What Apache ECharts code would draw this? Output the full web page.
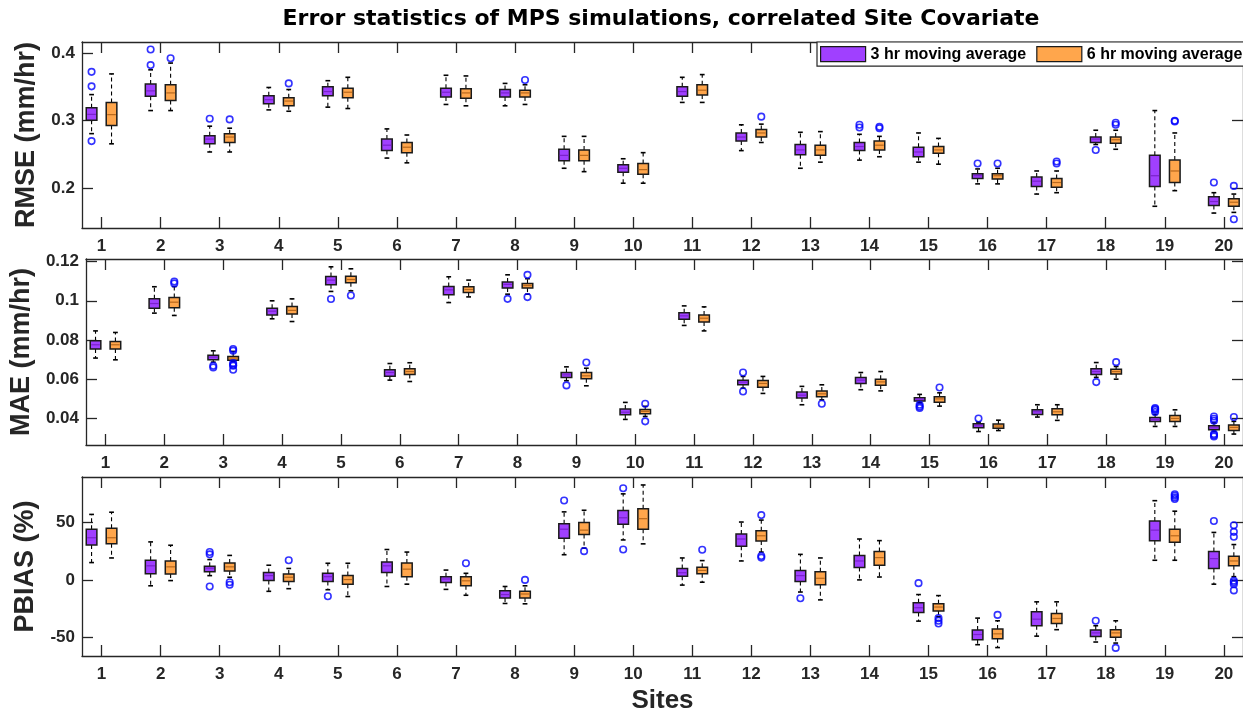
<!DOCTYPE html>
<html>
<head>
<meta charset="utf-8">
<script src="https://cdn.jsdelivr.net/npm/echarts@6/dist/echarts.min.js"></script>
<style>html,body{margin:0;padding:0;background:#fff}#c{width:1243px;height:715px}</style>
</head>
<body>
<div id="c"></div>
<script>
// ---------------- DATA ----------------
const SITES = [1,2,3,4,5,6,7,8,9,10,11,12,13,14,15,16,17,18,19,20];
const SERIES_NAMES = ['3 hr moving average', '6 hr moving average'];
const TITLE = 'Error statistics of MPS simulations, correlated Site Covariate';
const X_NAME = 'Sites';
const Y_NAMES = ['RMSE (mm/hr)', 'MAE (mm/hr)', 'PBIAS (%)'];
const RMSE_TICKS = [0.2, 0.3, 0.4];
const RMSE_TICK_LABELS = ['0.2', '0.3', '0.4'];
const MAE_TICKS = [0.04, 0.06, 0.08, 0.1, 0.12];
const MAE_TICK_LABELS = ['0.04', '0.06', '0.08', '0.1', '0.12'];
const PBIAS_TICKS = [-50, 0, 50];
const PBIAS_TICK_LABELS = ['-50', '0', '50'];

// [lower whisker, Q1, median, Q3, upper whisker] per site
const RMSE_3HR = [
  [0.281,0.3006,0.3094,0.3193,0.3385],[0.315,0.336,0.344,0.354,0.375],[0.254,0.266,0.273,0.278,0.292],
  [0.316,0.325,0.331,0.337,0.349],[0.320,0.337,0.343,0.350,0.359],[0.245,0.256,0.264,0.273,0.288],
  [0.324,0.335,0.342,0.348,0.367],[0.322,0.335,0.341,0.346,0.355],[0.230,0.241,0.249,0.258,0.277],
  [0.208,0.224,0.230,0.235,0.244],[0.327,0.336,0.343,0.350,0.364],[0.256,0.270,0.276,0.282,0.294],
  [0.230,0.250,0.257,0.265,0.283],[0.242,0.256,0.262,0.268,0.280],[0.239,0.247,0.254,0.261,0.282],
  [0.207,0.215,0.219,0.222,0.229],[0.192,0.203,0.211,0.217,0.226],[0.265,0.268,0.273,0.276,0.286],
  [0.174,0.203,0.219,0.249,0.315],[0.164,0.175,0.181,0.188,0.194]
];
const RMSE_6HR = [
  [0.266,0.293,0.309,0.327,0.369],[0.315,0.330,0.341,0.353,0.385],[0.254,0.268,0.276,0.281,0.289],
  [0.314,0.322,0.329,0.334,0.346],[0.318,0.334,0.342,0.348,0.364],[0.238,0.253,0.261,0.268,0.279],
  [0.322,0.333,0.341,0.347,0.366],[0.324,0.335,0.341,0.345,0.353],[0.225,0.241,0.249,0.257,0.277],
  [0.208,0.221,0.228,0.237,0.253],[0.327,0.338,0.345,0.353,0.368],[0.268,0.276,0.282,0.287,0.295],
  [0.239,0.249,0.257,0.264,0.284],[0.247,0.257,0.264,0.270,0.277],[0.236,0.252,0.257,0.262,0.274],
  [0.207,0.214,0.219,0.222,0.230],[0.194,0.202,0.209,0.215,0.226],[0.258,0.267,0.272,0.276,0.286],
  [0.197,0.209,0.226,0.242,0.282],[0.165,0.174,0.180,0.185,0.192]
];
const RMSE_3HR_OUT = [[1,0.372],[1,0.3507],[1,0.270],[2,0.405],[2,0.382],[3,0.303],[14,0.294],[14,0.290],
  [16,0.237],[18,0.257],[20,0.209]];
const RMSE_6HR_OUT = [[2,0.392],[3,0.302],[4,0.355],[8,0.360],[12,0.306],[14,0.291],[14,0.289],[16,0.237],
  [17,0.240],[17,0.237],[18,0.297],[18,0.294],[19,0.299],[19,0.300],[20,0.204],[20,0.155]];

const MAE_3HR = [
  [0.0707,0.0753,0.0775,0.0795,0.0846],[0.0937,0.0962,0.0986,0.1010,0.1072],[0.0686,0.0698,0.0712,0.0722,0.0744],
  [0.0908,0.0928,0.0947,0.0962,0.1000],[0.1048,0.1082,0.1106,0.1125,0.1174],[0.0594,0.0614,0.0633,0.0647,0.0679],
  [0.0991,0.1031,0.1056,0.1073,0.1123],[0.1034,0.1065,0.1084,0.1096,0.1133],[0.0591,0.0608,0.0621,0.0633,0.0662],
  [0.0393,0.0417,0.0430,0.0446,0.0480],[0.0874,0.0906,0.0923,0.0939,0.0974],[0.0553,0.0570,0.0584,0.0594,0.0613],
  [0.0468,0.0502,0.0517,0.0533,0.0562],[0.0545,0.0577,0.0594,0.0608,0.0633],[0.0478,0.0487,0.0497,0.0504,0.0521],
  [0.0331,0.0350,0.0360,0.0371,0.0379],[0.0405,0.0418,0.0432,0.0442,0.0468],[0.0608,0.0623,0.0638,0.0652,0.0684],
  [0.0357,0.0382,0.0393,0.0403,0.0418],[0.0333,0.0340,0.0350,0.0360,0.0375]
];
const MAE_6HR = [
  [0.0698,0.0753,0.0775,0.0792,0.0838],[0.0925,0.0964,0.0993,0.1017,0.1073],[0.0690,0.0696,0.0707,0.0715,0.0741],
  [0.0894,0.0932,0.0951,0.0971,0.1010],[0.1051,0.1092,0.1109,0.1126,0.1164],[0.0587,0.0623,0.0638,0.0652,0.0683],
  [0.1020,0.1043,0.1058,0.1072,0.1106],[0.1034,0.1065,0.1078,0.1089,0.1113],[0.0565,0.0601,0.0616,0.0633,0.0655],
  [0.0408,0.0422,0.0434,0.0444,0.0460],[0.0846,0.0891,0.0911,0.0927,0.0969],[0.0526,0.0558,0.0577,0.0592,0.0613],
  [0.0493,0.0509,0.0524,0.0539,0.0570],[0.0539,0.0568,0.0585,0.0599,0.0638],[0.0461,0.0481,0.0498,0.0509,0.0529],
  [0.0336,0.0348,0.0359,0.0369,0.0389],[0.0388,0.0417,0.0432,0.0447,0.0468],[0.0599,0.0625,0.0638,0.0650,0.0664],
  [0.0357,0.0382,0.0398,0.0413,0.0442],[0.0318,0.0336,0.0352,0.0365,0.0383]
];
const MAE_3HR_OUT = [[3,0.0667],[3,0.0659],[5,0.1009],[8,0.1010],[9,0.0567],[12,0.0633],[12,0.0536],
  [15,0.0468],[15,0.0459],[15,0.0452],[16,0.0398],[18,0.0584],[19,0.0451],[19,0.0446],[19,0.0441],[19,0.0431],
  [20,0.0408],[20,0.0396],[20,0.0386],[20,0.0318],[20,0.0312],[20,0.0306]];
const MAE_6HR_OUT = [[2,0.1099],[2,0.1089],[3,0.0753],[3,0.0745],[3,0.0681],[3,0.0672],[3,0.0668],[3,0.0647],
  [5,0.1027],[8,0.1133],[8,0.1019],[9,0.0684],[10,0.0473],[10,0.0383],[13,0.0473],[15,0.0556],[18,0.0686],[20,0.0405]];

const PBIAS_3HR = [
  [15,30.3,36.5,43.9,56.7],[-5.1,5.4,12.2,17,32.9],[3.7,7.1,10.2,11.9,17.6],[-9.9,-0.6,3.7,6.5,12.7],
  [-8.5,-1.4,2.8,5.7,14.4],[-5.7,6.5,12.2,15.6,26.3],[-8.2,-2.3,0.8,2.8,8.5],[-20.4,-15.6,-12.7,-9.3,-5.7],
  [21.8,36,43.9,48.7,58.9],[34.6,48.2,53.8,60.1,74.5],[-4.5,3.1,6.2,9.9,19],[16.4,29.2,35.4,39.7,50.1],
  [-10.5,-1.4,3.7,8.2,22.1],[0,10.8,16.4,21.2,35.4],[-35.7,-28.3,-24.1,-19.8,-12.7],[-56.1,-51.8,-47.3,-43.3,-33.1],
  [-48.7,-39.7,-34,-27.5,-19],[-53.8,-49,-45.9,-43.3,-39.7],[17,34,43.1,51,68.6],[-3.7,9.9,18.4,24.6,41.1]
];
const PBIAS_6HR = [
  [19,31.4,36.5,44.8,58.6],[-0.6,5.1,11.3,16.4,30],[2.3,7.6,11.3,14.7,21.2],[-7.6,-1.4,2.3,5.1,9.9],
  [-14.4,-3.7,0.3,3.7,14.4],[-3.7,2.8,9.3,14.7,24.1],[-13.3,-5.1,-0.8,2.8,5.7],[-20.7,-15.6,-12.2,-9.9,-5.1],
  [27.5,39.4,43.1,49.6,60.3],[31.2,43.9,53,61.5,82.2],[-2,5.4,8.2,11,16.7],[24.1,33.7,38.2,42.5,51.8],
  [-17.3,-4.2,1.4,7.1,19],[2.5,12.7,19.3,24.6,34],[-32,-26.9,-23.5,-20.7,-13.6],[-58.6,-51,-46.7,-42.5,-35.4],
  [-43.1,-37.7,-33.4,-29.2,-19],[-54.7,-49.6,-45.9,-43.1,-35.4],[17,32.6,38.2,43.9,59.5],[2.8,12.2,16.4,20.4,30.6]
];
const PBIAS_3HR_OUT = [[3,24.1],[3,22.1],[3,-5.7],[5,-14.2],[9,68.8],[10,79.3],[10,26.3],[13,-15.9],[15,-2.8],
  [18,-35.4],[20,51]];
const PBIAS_6HR_OUT = [[3,-2],[3,-4.2],[4,17],[7,14.4],[8,0],[9,24.9],[11,26.1],[12,56.1],[12,20.7],[12,19.3],
  [15,-33.1],[15,-35.4],[15,-37.7],[16,-30.3],[18,-58.9],[19,74.2],[19,72.8],[19,71.4],[19,70],
  [20,47.3],[20,41.6],[20,37.4],[20,-0.8],[20,-2],[20,-3.7],[20,-9.1]];

// ---------------- STYLE ----------------
const FONT = '"Liberation Sans", Arial, Helvetica, sans-serif';
const TITLE_FONT = '"DejaVu Sans", "Liberation Sans", sans-serif';
const AXIS_COLOR = '#262626';
const COLORS = ['#A040FF', '#FFA64C'];
const MEDIAN_COLORS = ['#7A22CC', '#B8681C'];
const OUTLIER_COLOR = '#0000FF';
const OFFSETS = [-0.169, 0.169];
const BOX_W = 0.18;
const X_MIN = 0.669, X_MAX = 20.324;

const PANELS = [
  {top: 42, height: 186, min: 0.142, max: 0.416, ticks: RMSE_TICKS, labels: RMSE_TICK_LABELS,
   stats: [RMSE_3HR, RMSE_6HR], outs: [RMSE_3HR_OUT, RMSE_6HR_OUT], name: Y_NAMES[0]},
  {top: 259, height: 186, min: 0.0262, max: 0.1214, ticks: MAE_TICKS, labels: MAE_TICK_LABELS,
   stats: [MAE_3HR, MAE_6HR], outs: [MAE_3HR_OUT, MAE_6HR_OUT], name: Y_NAMES[1]},
  {top: 477, height: 182, min: -65.9, max: 89.1, ticks: PBIAS_TICKS, labels: PBIAS_TICK_LABELS,
   stats: [PBIAS_3HR, PBIAS_6HR], outs: [PBIAS_3HR_OUT, PBIAS_6HR_OUT], name: Y_NAMES[2]}
];

function renderBox(colorIdx) {
  return function (params, api) {
    const x = api.value(0);
    const lo = api.coord([x, api.value(1)]);
    const q1 = api.coord([x, api.value(2)]);
    const md = api.coord([x, api.value(3)]);
    const q3 = api.coord([x, api.value(4)]);
    const hi = api.coord([x, api.value(5)]);
    const hw = api.size([BOX_W, 0])[0] / 2;
    const cw = hw * 0.45;
    const cx = md[0];
    const dash = {stroke: '#000', lineWidth: 1.1, lineDash: [4, 3]};
    const solid = {stroke: '#000', lineWidth: 1.6};
    return {
      type: 'group',
      children: [
        {type: 'line', shape: {x1: cx, y1: q3[1], x2: cx, y2: hi[1]}, style: dash},
        {type: 'line', shape: {x1: cx, y1: q1[1], x2: cx, y2: lo[1]}, style: dash},
        {type: 'line', shape: {x1: cx - cw, y1: hi[1], x2: cx + cw, y2: hi[1]}, style: solid},
        {type: 'line', shape: {x1: cx - cw, y1: lo[1], x2: cx + cw, y2: lo[1]}, style: solid},
        {type: 'rect', shape: {x: cx - hw, y: q3[1], width: 2 * hw, height: q1[1] - q3[1]},
         style: {fill: COLORS[colorIdx], stroke: '#1a1a1a', lineWidth: 1.5}},
        {type: 'line', shape: {x1: cx - hw + 1, y1: md[1], x2: cx + hw - 1, y2: md[1]},
         style: {stroke: MEDIAN_COLORS[colorIdx], lineWidth: 1.2}}
      ]
    };
  };
}

const grid = [], xAxis = [], yAxis = [], series = [];
const labelStyle = {fontFamily: FONT, fontWeight: 'bold', fontSize: 17, color: AXIS_COLOR};

PANELS.forEach((p, k) => {
  grid.push({left: 82, top: p.top, width: 1163, height: p.height});
  const isLast = k === PANELS.length - 1;
  xAxis.push({
    type: 'value', gridIndex: k, min: X_MIN, max: X_MAX, position: 'bottom',
    axisLine: {show: true, onZero: false, lineStyle: {color: AXIS_COLOR, width: 1.3}},
    axisTick: {show: true, inside: true, length: 11, customValues: SITES, lineStyle: {color: AXIS_COLOR, width: 1.3}},
    axisLabel: Object.assign({show: true, margin: 10, customValues: SITES, formatter: v => String(Math.round(v))}, labelStyle),
    splitLine: {show: false},
    name: isLast ? X_NAME : '', nameLocation: 'middle', nameGap: 32,
    nameTextStyle: {fontFamily: FONT, fontWeight: 'bold', fontSize: 26, color: AXIS_COLOR, verticalAlign: 'top'}
  });
  xAxis.push({
    type: 'value', gridIndex: k, min: X_MIN, max: X_MAX, position: 'top',
    axisLine: {show: true, onZero: false, lineStyle: {color: AXIS_COLOR, width: 1.3}},
    axisTick: {show: true, inside: true, length: 11, customValues: SITES, lineStyle: {color: AXIS_COLOR, width: 1.3}},
    axisLabel: {show: false}, splitLine: {show: false}
  });
  const fmt = v => {
    const i = p.ticks.findIndex(t => Math.abs(t - v) < 1e-9);
    return i >= 0 ? p.labels[i] : '';
  };
  yAxis.push({
    type: 'value', gridIndex: k, min: p.min, max: p.max, position: 'left',
    axisLine: {show: true, onZero: false, lineStyle: {color: AXIS_COLOR, width: 1.3}},
    axisTick: {show: true, inside: true, length: 11, customValues: p.ticks, lineStyle: {color: AXIS_COLOR, width: 1.3}},
    axisLabel: Object.assign({show: true, margin: 7, customValues: p.ticks, formatter: fmt}, labelStyle),
    splitLine: {show: false},
    name: p.name, nameLocation: 'middle', nameGap: 41, nameRotate: 90,
    nameTextStyle: {fontFamily: FONT, fontWeight: 'bold', fontSize: 27, color: AXIS_COLOR}
  });
  yAxis.push({
    type: 'value', gridIndex: k, min: p.min, max: p.max, position: 'right',
    axisLine: {show: true, onZero: false, lineStyle: {color: AXIS_COLOR, width: 1.3}},
    axisTick: {show: true, inside: true, length: 11, customValues: p.ticks, lineStyle: {color: AXIS_COLOR, width: 1.3}},
    axisLabel: {show: false}, splitLine: {show: false}
  });

  [0, 1].forEach(c => {
    series.push({
      type: 'custom', name: SERIES_NAMES[c], xAxisIndex: 2 * k, yAxisIndex: 2 * k,
      renderItem: renderBox(c),
      itemStyle: {color: COLORS[c], borderColor: '#000', borderWidth: 1},
      encode: {x: 0, y: [1, 2, 3, 4, 5]},
      data: SITES.map((s, i) => [s + OFFSETS[c]].concat(p.stats[c][i])),
      z: 3, silent: true
    });
    series.push({
      type: 'scatter', name: 'outliers ' + k + '-' + c, xAxisIndex: 2 * k, yAxisIndex: 2 * k,
      symbol: 'circle', symbolSize: 6.5,
      itemStyle: {color: 'rgba(0,0,0,0)', borderColor: OUTLIER_COLOR, borderWidth: 1.6},
      data: p.outs[c].map(o => [o[0] + OFFSETS[c], o[1]]),
      z: 4, silent: true
    });
  });
});

const chart = echarts.init(document.getElementById('c'), null, {renderer: 'canvas'});
chart.setOption({
  animation: false,
  backgroundColor: '#fff',
  grid, xAxis, yAxis, series,
  legend: {
    data: SERIES_NAMES, left: 817, top: 42, width: 480, orient: 'horizontal',
    icon: 'rect', itemWidth: 45, itemHeight: 15, itemGap: 10,
    padding: [4, 4, 4, 3], borderColor: AXIS_COLOR, borderWidth: 1.2, backgroundColor: '#fff',
    itemStyle: {borderColor: '#1a1a1a', borderWidth: 1.2},
    textStyle: {fontFamily: FONT, fontWeight: 'bold', fontSize: 16, color: '#000'},
    selectedMode: false
  },
  graphic: [{
    type: 'text', x: 661, y: 8,
    style: {text: TITLE, textAlign: 'center', textVerticalAlign: 'top',
      font: 'bold 22px ' + TITLE_FONT, fill: '#000'}
  }]
});
</script>
</body>
</html>
